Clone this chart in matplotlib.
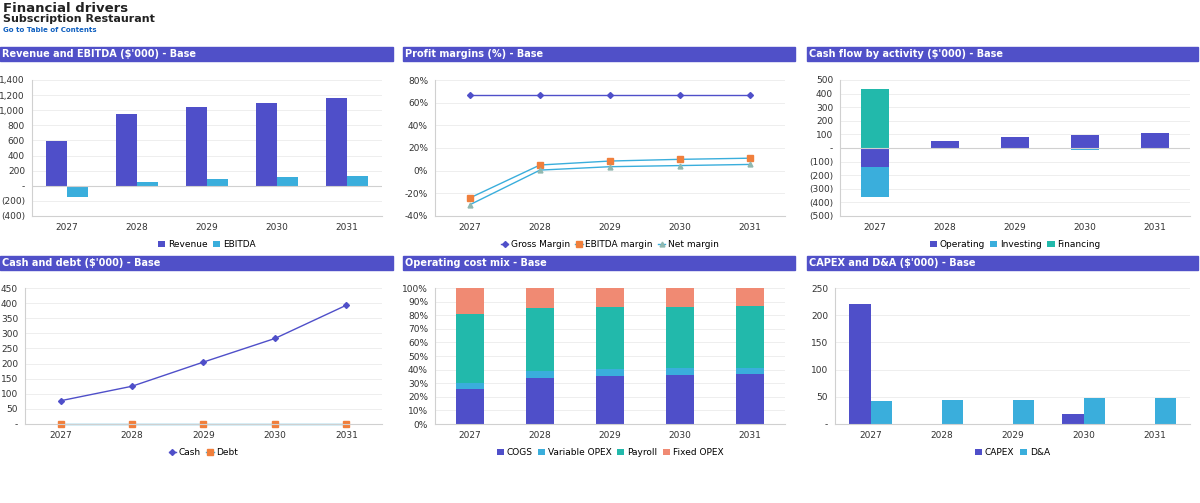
import matplotlib
matplotlib.use("Agg")
import matplotlib.pyplot as plt
import numpy as np
from matplotlib.ticker import FuncFormatter

years = ["2027", "2028", "2029", "2030", "2031"]
revenue = [595, 955, 1045, 1100, 1160]
ebitda = [-145, 50, 90, 110, 130]
gross_margin = [67, 67, 67, 67, 67]
ebitda_margin = [-24, 5, 8.5, 10, 11]
net_margin = [-30, 0.5, 3.5, 4.5, 5.5]
cf_operating = [-140, 50, 80, 95, 110]
cf_investing = [-220, 0, 0, -18, 0]
cf_financing = [435, 0, 0, 0, 0]
cash = [77, 125, 205, 283, 393]
debt = [0, 0, 0, 0, 0]
cogs = [26, 34, 35.5, 36, 36.5]
var_opex = [4, 5, 5, 5, 5]
payroll = [51, 46.5, 45.5, 45, 45]
fixed_opex = [19, 14.5, 14, 14, 13.5]
capex = [220, 0, 0, 18, 0]
dna = [42, 44, 44, 47, 47]

BLUE = "#4F4FC9"; CYAN = "#3AAEDC"; TEAL = "#22B9AB"; SALMON = "#F08A73"; ORANGE = "#F07F3C"
HDR = "#5050C8"
plt.rcParams["font.family"] = ["DejaVu Sans"]
plt.rcParams["font.size"] = 6.5

W, H = 1200, 503
fig = plt.figure(figsize=(12, 5.03), dpi=100)
fig.text(3/W, 1-2/H, "Financial drivers", fontsize=9.5, fontweight="bold", va="top", color="#222222")
fig.text(3/W, 1-14/H, "Subscription Restaurant", fontsize=8, fontweight="bold", va="top", color="#222222")
fig.text(3/W, 1-27/H, "Go to Table of Contents", fontsize=5, fontweight="bold", color="#1060C0", va="top")

def header(x0, x1, y0, title):
    fig.patches.append(plt.Rectangle((x0/W, 1-(y0+14)/H), (x1-x0)/W, 14/H, transform=fig.transFigure, color=HDR))
    fig.text((x0+2)/W, 1-(y0+7)/H, title, color="white", fontsize=7, fontweight="bold", va="center")

def mkax(x0, x1, y0, y1):
    ax = fig.add_axes([x0/W, 1-y1/H, (x1-x0)/W, (y1-y0)/H])
    for s in ["top", "right"]:
        ax.spines[s].set_visible(False)
    ax.spines["left"].set_color("#D0D0D0"); ax.spines["bottom"].set_color("#D0D0D0")
    ax.tick_params(length=0, labelsize=6.5, pad=5, colors="#333333")
    ax.grid(axis="y", color="#EEEEEE", lw=0.7); ax.set_axisbelow(True)
    return ax

def num(v, p):
    if abs(v) < 1e-9: return "-"
    s = f"{abs(v):,.0f}"
    return f"({s})" if v < 0 else s

def leg(ax, **kw):
    ax.legend(loc="upper center", bbox_to_anchor=(0.5, -0.12), ncol=4, frameon=False, fontsize=6.5,
              handlelength=0.8, handletextpad=0.3, columnspacing=0.6, **kw)

x = np.arange(len(years))

# 1 revenue
header(0, 393, 47, "Revenue and EBITDA ($'000) - Base")
ax = mkax(32, 382, 80, 216)
ax.bar(x-0.15, revenue, 0.3, color=BLUE, label="Revenue")
ax.bar(x+0.15, ebitda, 0.3, color=CYAN, label="EBITDA")
ax.set_ylim(-400, 1400); ax.set_yticks(range(-400, 1401, 200))
ax.yaxis.set_major_formatter(FuncFormatter(num)); ax.axhline(0, color="#D0D0D0", lw=0.8)
ax.set_xticks(x, years); ax.set_xlim(-0.5, 4.5); leg(ax)

# 2 margins
header(403, 795, 47, "Profit margins (%) - Base")
ax = mkax(435, 785, 80, 216)
ax.plot(x, gross_margin, color=BLUE, marker="D", ms=3, lw=1, label="Gross Margin")
ax.plot(x, ebitda_margin, color=CYAN, marker="s", ms=4, mfc=ORANGE, mec=ORANGE, lw=1, label="EBITDA margin")
ax.plot(x, net_margin, color=CYAN, marker="^", ms=3.5, mfc="#8FB8B0", mec="#8FB8B0", lw=1, label="Net margin")
ax.set_ylim(-40, 80); ax.set_yticks(range(-40, 81, 20))
ax.yaxis.set_major_formatter(FuncFormatter(lambda v, p: f"{v:.0f}%"))
ax.set_xticks(x, years); ax.set_xlim(-0.5, 4.5); leg(ax)

# 3 cash flow
header(807, 1198, 47, "Cash flow by activity ($'000) - Base")
ax = mkax(840, 1190, 80, 216)
op = np.array(cf_operating); inv = np.array(cf_investing); fin = np.array(cf_financing)
ax.bar(x, op, 0.4, color=BLUE, label="Operating")
ax.bar(x, inv, 0.4, bottom=np.where(op < 0, op, 0), color=CYAN, label="Investing")
ax.bar(x, fin, 0.4, bottom=np.where(op > 0, op, 0), color=TEAL, label="Financing")
ax.set_ylim(-500, 500); ax.set_yticks(range(-500, 501, 100))
ax.yaxis.set_major_formatter(FuncFormatter(num)); ax.axhline(0, color="#D0D0D0", lw=0.8)
ax.set_xticks(x, years); ax.set_xlim(-0.5, 4.5); leg(ax)

# 4 cash debt
header(0, 393, 256, "Cash and debt ($'000) - Base")
ax = mkax(25, 382, 288, 424)
ax.plot(x, cash, color=BLUE, marker="D", ms=3, lw=1, label="Cash")
ax.plot(x, debt, color=CYAN, marker="s", ms=4, mfc=ORANGE, mec=ORANGE, lw=1, label="Debt", clip_on=False)
ax.set_ylim(0, 450); ax.set_yticks(range(0, 451, 50))
ax.yaxis.set_major_formatter(FuncFormatter(num))
ax.set_xticks(x, years); ax.set_xlim(-0.5, 4.5); leg(ax)

# 5 cost mix
header(403, 795, 256, "Operating cost mix - Base")
ax = mkax(435, 785, 288, 424)
b = np.zeros(5)
for vals, c, lab in [(cogs, BLUE, "COGS"), (var_opex, CYAN, "Variable OPEX"), (payroll, TEAL, "Payroll"), (fixed_opex, SALMON, "Fixed OPEX")]:
    ax.bar(x, vals, 0.4, bottom=b, color=c, label=lab); b += np.array(vals)
ax.set_ylim(0, 100); ax.set_yticks(range(0, 101, 10))
ax.yaxis.set_major_formatter(FuncFormatter(lambda v, p: f"{v:.0f}%"))
ax.set_xticks(x, years); ax.set_xlim(-0.5, 4.5); leg(ax)

# 6 capex
header(807, 1198, 256, "CAPEX and D&A ($'000) - Base")
ax = mkax(835, 1190, 288, 424)
ax.bar(x-0.15, capex, 0.3, color=BLUE, label="CAPEX")
ax.bar(x+0.15, dna, 0.3, color=CYAN, label="D&A")
ax.set_ylim(0, 250); ax.set_yticks(range(0, 251, 50))
ax.yaxis.set_major_formatter(FuncFormatter(num))
ax.set_xticks(x, years); ax.set_xlim(-0.5, 4.5); leg(ax)

fig.savefig("out.png", dpi=100)
